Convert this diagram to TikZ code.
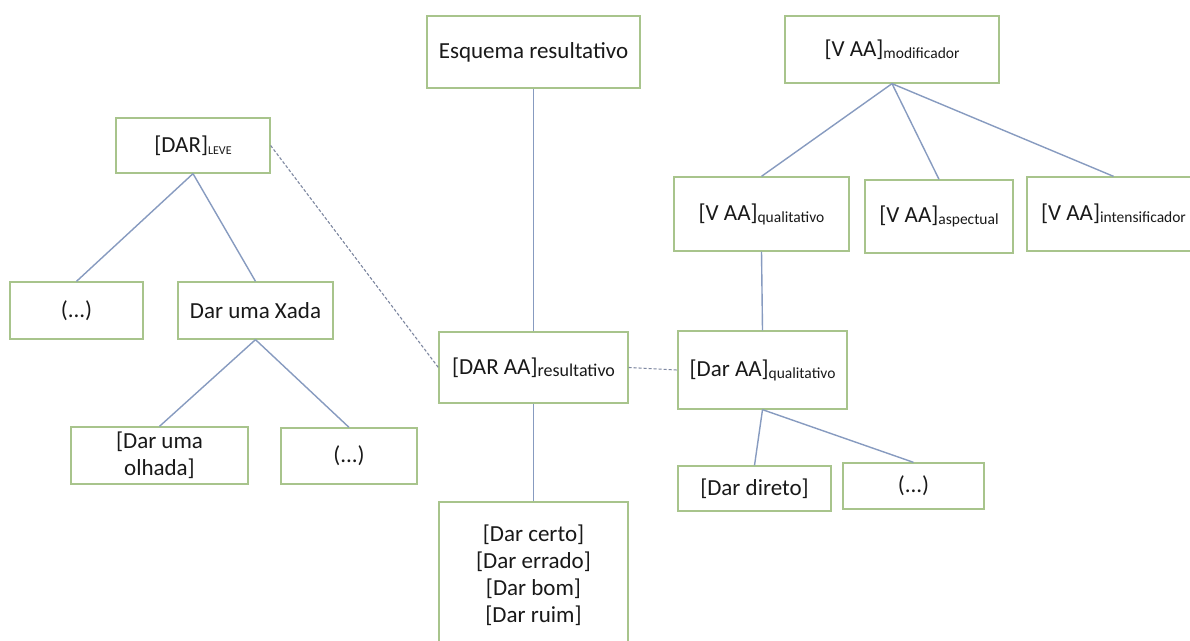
\documentclass[tikz,border=0pt]{standalone}
\usepackage{fontspec}
\setmainfont{Carlito}
\definecolor{boxgreen}{RGB}{168,196,140}
\definecolor{linkblue}{RGB}{135,155,192}
\definecolor{dashgray}{RGB}{125,135,160}
\definecolor{txt}{RGB}{25,25,25}
\newcommand{\lowsub}[2][15.5]{\raisebox{-2pt}{\fontsize{#1}{#1}\selectfont #2}}
\tikzset{
  box/.style={draw=boxgreen, line width=1.3pt, fill=white, inner sep=0pt,
    align=center, text=txt, font=\fontsize{23}{27}\selectfont},
  link/.style={draw=linkblue, line width=1.4pt},
  dlink/.style={draw=dashgray, line width=1.1pt, dash pattern=on 3pt off 2pt}
}
\begin{document}
\begin{tikzpicture}[x=1pt,y=-1pt]
\useasboundingbox (0,0) rectangle (1190,640);
\clip (0,0) rectangle (1190,640);
\fill[white] (0,0) rectangle (1190,640);
% left tree
\node[box, minimum width=154, minimum height=55] (leve) at (193,145.5) {[DAR]\lowsub[12]{LEVE}};
\node[box, minimum width=133, minimum height=57] (lell) at (76.5,310.5) {(...)};
\node[box, minimum width=155, minimum height=57] (xada) at (255.5,310.5) {Dar uma Xada};
\node[box, minimum width=177, minimum height=57] (olhada) at (159.5,455.5) {[Dar uma\\{olhada]}};
\node[box, minimum width=136, minimum height=56] (lell2) at (349,456) {(...)};
% centre column
\node[box, minimum width=213, minimum height=72] (esq) at (533.5,52) {Esquema resultativo};
\node[box, minimum width=189, minimum height=71] (res) at (533.5,367.5) {[DAR AA]\lowsub[18]{resultativo}};
\node[box, minimum width=189, minimum height=146] (exs) at (533.5,575) {{[Dar certo]}\\{[Dar errado]}\\{[Dar bom]}\\{[Dar ruim]}};
% right tree
\node[box, minimum width=214, minimum height=67] (mod) at (892,49.5) {[V AA]\lowsub{modificador}};
\node[box, minimum width=175, minimum height=74] (vq) at (761.5,214) {[V AA]\lowsub{qualitativo}};
\node[box, minimum width=148, minimum height=73] (asp) at (939,216.5) {[V AA]\lowsub{aspectual}};
\node[box, minimum width=173, minimum height=74] (int) at (1113.5,214) {[V AA]\lowsub{intensificador}};
\node[box, minimum width=169, minimum height=78] (daq) at (762.5,370) {[Dar AA]\lowsub{qualitativo}};
\node[box, minimum width=153, minimum height=45] (dir) at (754.5,488.5) {[Dar direto]};
\node[box, minimum width=141, minimum height=46] (qell) at (913.5,486) {(...)};
% connectors
\draw[link] (leve.south) -- (lell.north);
\draw[link] (leve.south) -- (xada.north);
\draw[link] (xada.south) -- (olhada.north);
\draw[link] (xada.south) -- (lell2.north);
\draw[link] (esq.south) -- (res.north);
\draw[link] (res.south) -- (exs.north);
\draw[link] (mod.south) -- (vq.north);
\draw[link] (mod.south) -- (asp.north);
\draw[link] (mod.south) -- (int.north);
\draw[link] (vq.south) -- (daq.north);
\draw[link] (daq.south) -- (dir.north);
\draw[link] (daq.south) -- (qell.north);
\draw[dlink] (leve.east) -- (res.west);
\draw[dlink] (res.east) -- (daq.west);
\end{tikzpicture}
\end{document}
